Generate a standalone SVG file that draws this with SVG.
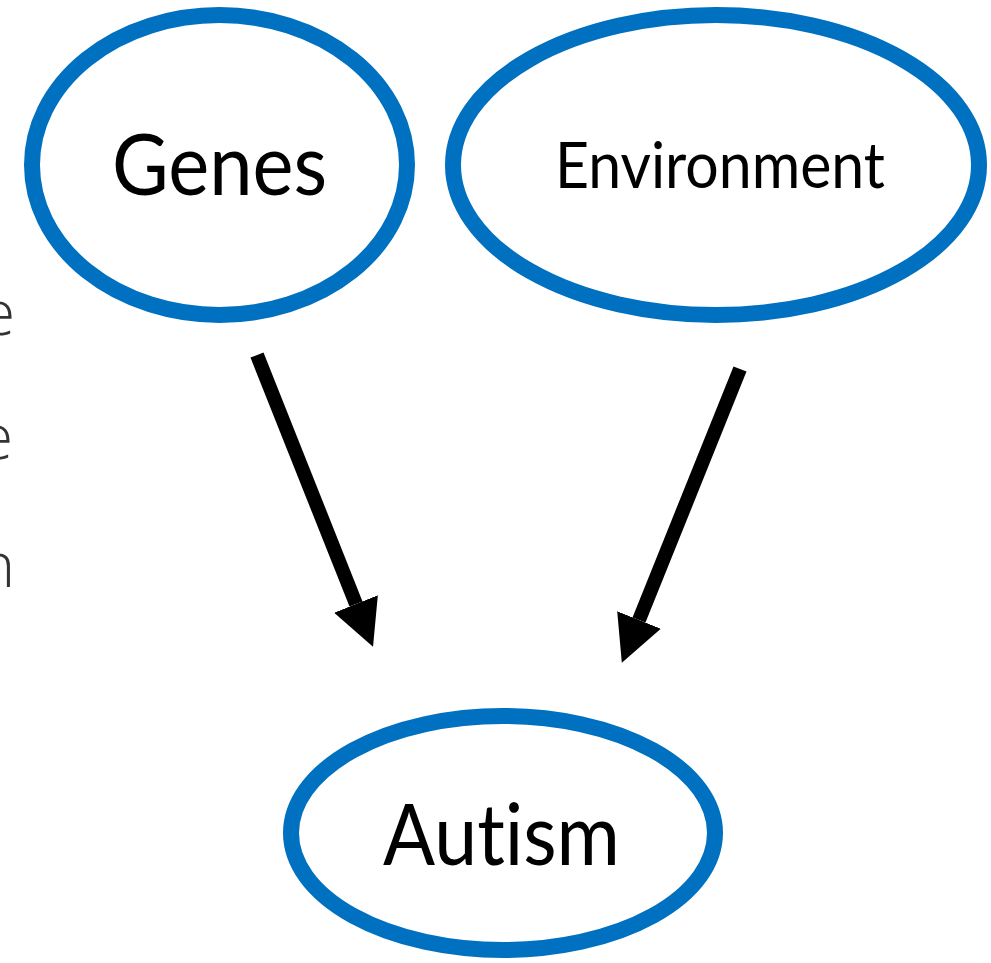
<svg xmlns="http://www.w3.org/2000/svg" width="991" height="963" viewBox="0 0 991 963">
  <style>
    .node ellipse { fill: #ffffff; stroke: #0070C0; stroke-width: 16; }
    .label { font-family: Lato, "Open Sans", "Liberation Sans", sans-serif; fill: #000000; text-anchor: middle; font-variant-ligatures: none; font-feature-settings: "liga" 0; }
    .edge { stroke: #000000; stroke-width: 14; fill: none; marker-end: url(#head); }
    .frag { font-family: "Open Sans", Lato, "Liberation Sans", sans-serif; font-weight: 300; font-size: 62px; fill: #333333; text-anchor: end; }
  </style>
  <defs>
    <marker id="head" viewBox="0 0 46 47" markerWidth="46" markerHeight="47" refX="0" refY="23.5" markerUnits="userSpaceOnUse" orient="auto">
      <path d="M0,0 L46,23.5 L0,47 Z" fill="#000000"/>
    </marker>
  </defs>
  <rect width="991" height="963" fill="#ffffff"/>
  <g id="fragments">
    <text class="frag" x="15" y="335">e</text>
    <text class="frag" x="13" y="459">e</text>
    <text class="frag" x="15" y="587">n</text>
  </g>
  <g id="connectors">
    <line class="edge" x1="257" y1="355" x2="356" y2="604"/>
    <line class="edge" x1="740" y1="369" x2="639" y2="620"/>
  </g>
  <g id="genes" class="node">
    <ellipse cx="219.5" cy="165" rx="187.5" ry="150"/>
    <text class="label" x="219.5" y="195" font-size="85" textLength="215" lengthAdjust="spacingAndGlyphs">Genes</text>
  </g>
  <g id="environment" class="node">
    <ellipse cx="716" cy="165" rx="263" ry="150"/>
    <text class="label" x="720" y="188" font-size="63" textLength="330" lengthAdjust="spacingAndGlyphs">Environment</text>
  </g>
  <g id="autism" class="node">
    <ellipse cx="503" cy="833" rx="212" ry="117"/>
    <text class="label" x="501.5" y="865" font-size="85" textLength="237" lengthAdjust="spacingAndGlyphs">Autism</text>
  </g>
</svg>
